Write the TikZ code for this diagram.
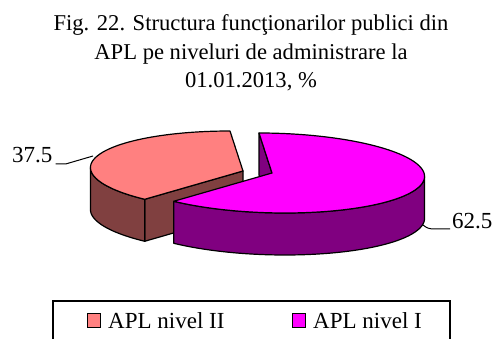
\documentclass[tikz,border=0pt]{standalone}
\usepackage{fontspec}
\setmainfont{Liberation Serif}
\definecolor{salmtop}{HTML}{FF8080}
\definecolor{salmside}{HTML}{804040}
\definecolor{magtop}{HTML}{FF00FF}
\definecolor{magside}{HTML}{800080}
\begin{document}
\begin{tikzpicture}[x=1pt,y=1pt,
  declare function={px(\c,\t)=\c+152*cos(\t)-13*sin(\t); py(\c,\t)=\c+40*sin(\t);},
  edge/.style={draw=black,line width=1.2pt,line join=round},
  lead/.style={draw=black,line width=1pt},
  lbl/.style={font=\fontsize{23}{27}\selectfont,inner sep=0pt},
  ttl/.style={font=\fontsize{22.6}{27}\selectfont,inner sep=0pt,anchor=base},
  keysq/.style={draw=black,line width=1pt,minimum width=13pt,minimum height=14pt,inner sep=0pt}]
\useasboundingbox (0,0) rectangle (496,338);
\clip (0,0) rectangle (496,338);
% title
\node[ttl] (t1) at (251,307) {Fig. 22. Structura funcţionarilor publici din};
\node[ttl] (t2) at (251,278.5) {APL pe niveluri de administrare la};
\node[ttl] (t3) at (251,250) {01.01.2013, \%};
% salmon slice (APL nivel II), exploded
\coordinate (sA) at (243,167);
\draw[edge,fill=salmside] (sA) -- ({px(243,225)},{py(167,225)}) -- ({px(243,225)},{py(167,225)-42}) -- (243,125) -- cycle;
\draw[edge,fill=salmside] plot[domain=175.1:225,samples=30] ({px(243,\x)},{py(167,\x)})
   -- plot[domain=225:175.1,samples=30] ({px(243,\x)},{py(167,\x)-42}) -- cycle;
\draw[edge,fill=salmtop] (sA) -- plot[domain=90:225,samples=60] ({px(243,\x)},{py(167,\x)}) -- cycle;
% magenta slice (APL nivel I)
\coordinate (mA) at (272,165);
\draw[edge,fill=magside] (mA) -- ({px(272,90)},{py(165,90)}) -- ({px(272,90)},{py(165,90)-42}) -- (272,123) -- cycle;
\draw[edge,fill=magside] plot[domain=-135:-4.9,samples=80] ({px(272,\x)},{py(165,\x)})
   -- plot[domain=-4.9:-135,samples=80] ({px(272,\x)},{py(165,\x)-42}) -- cycle;
\draw[edge,fill=magtop] (mA) -- plot[domain=-135:90,samples=120] ({px(272,\x)},{py(165,\x)}) -- cycle;
% data labels
\node[lbl,anchor=base west] (l37) at (12,175) {37.5};
\node[lbl,anchor=base west] (l62) at (452,110) {62.5};
\coordinate (e37) at (93,182);
\coordinate (e62) at (423,113);
\draw[lead] ([xshift=3pt,yshift=-1pt]l37.base east) -- ++(10,0) -- (e37);
\draw[lead] (e62) .. controls (427,110) .. (432,109) -- ([xshift=-2pt,yshift=-1pt]l62.base west);
% legend
\draw[line width=1.2pt] (53,-10) rectangle (450,37);
\node[keysq,fill=salmtop] (k1) at (94,18) {};
\node[lbl,anchor=base west] (n1) at (108,10) {APL nivel II};
\node[keysq,fill=magtop] (k2) at (299,18) {};
\node[lbl,anchor=base west] (n2) at (313,10) {APL nivel I};
\end{tikzpicture}
\end{document}
